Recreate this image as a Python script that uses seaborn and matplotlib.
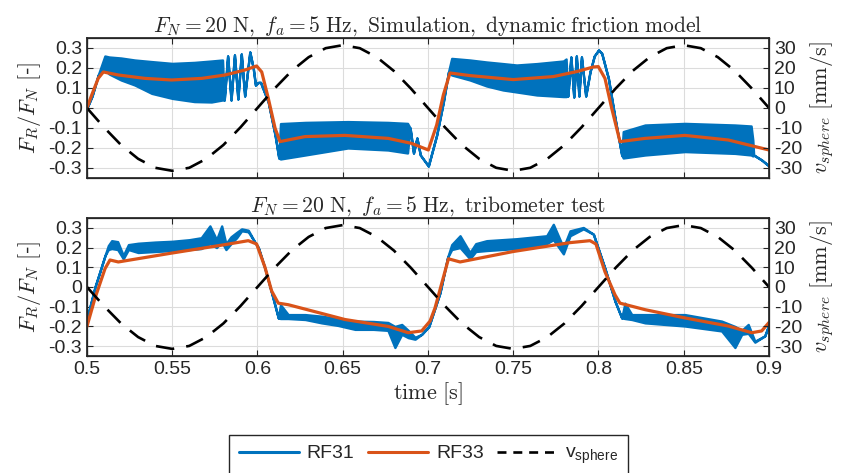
import matplotlib
matplotlib.use("Agg")
import seaborn as sns
import matplotlib.pyplot as plt
from matplotlib.lines import Line2D
from matplotlib.ticker import FormatStrFormatter, MultipleLocator

BLUE = "#0072BD"
ORANGE = "#D95319"
DASH = (0, (7.0, 4.6))

# sphere velocity [mm/s], same excitation in both panels
v_t = [0.50, 0.51, 0.52, 0.53, 0.54, 0.55, 0.56, 0.57, 0.58, 0.59,
       0.60, 0.61, 0.62, 0.63, 0.64, 0.65, 0.66, 0.67, 0.68, 0.69,
       0.70, 0.71, 0.72, 0.73, 0.74, 0.75, 0.76, 0.77, 0.78, 0.79,
       0.80, 0.81, 0.82, 0.83, 0.84, 0.85, 0.86, 0.87, 0.88, 0.89, 0.90]
v_sphere = [0, -9.7, -18.5, -25.4, -29.9, -31.4, -29.9, -25.4, -18.5, -9.7,
            0, 9.7, 18.5, 25.4, 29.9, 31.4, 29.9, 25.4, 18.5, 9.7,
            0, -9.7, -18.5, -25.4, -29.9, -31.4, -29.9, -25.4, -18.5, -9.7,
            0, 9.7, 18.5, 25.4, 29.9, 31.4, 29.9, 25.4, 18.5, 9.7, 0]

# simulation, RF31: envelope of the stick-slip oscillation (lo == hi -> single line)
sim31_t = [0.500, 0.503, 0.5066, 0.5105, 0.513, 0.520, 0.528, 0.538, 0.550, 0.563,
           0.573, 0.5795, 0.5805, 0.5825, 0.5845, 0.5865, 0.5885, 0.5905, 0.5925, 0.5955,
           0.5975, 0.5988, 0.6005, 0.6018, 0.6063, 0.6103, 0.6125, 0.6135, 0.628, 0.653,
           0.6765, 0.688, 0.6895, 0.6915, 0.6935, 0.6955, 0.7002, 0.7051, 0.709, 0.712,
           0.7139, 0.7246, 0.7344, 0.744, 0.752, 0.7638, 0.7794, 0.781, 0.782, 0.7838,
           0.7855, 0.787, 0.7885, 0.790, 0.7925, 0.795, 0.7975, 0.800, 0.8019, 0.8058,
           0.8097, 0.8136, 0.8145, 0.8273, 0.8507, 0.880, 0.8895, 0.8905, 0.891, 0.8957,
           0.900]
sim31_lo = [0.00, 0.06, 0.165, 0.19, 0.17, 0.14, 0.115, 0.073, 0.048, 0.032,
            0.030, 0.04, 0.04, 0.26, 0.04, 0.265, 0.045, 0.27, 0.06, 0.28,
            0.20, 0.115, 0.128, 0.128, 0.03, -0.135, -0.25, -0.255, -0.235, -0.20,
            -0.21, -0.225, -0.10, -0.225, -0.15, -0.235, -0.29, -0.135, 0.03, 0.18,
            0.165, 0.14, 0.11, 0.09, 0.08, 0.065, 0.057, 0.057, 0.06, 0.255,
            0.055, 0.26, 0.06, 0.255, 0.06, 0.18, 0.26, 0.29, 0.273, 0.148,
            -0.052, -0.235, -0.25, -0.235, -0.218, -0.227, -0.235, -0.24, -0.235, -0.26,
            -0.29]
sim31_hi = [0.00, 0.06, 0.165, 0.26, 0.255, 0.25, 0.24, 0.232, 0.223, 0.228,
            0.235, 0.24, 0.04, 0.26, 0.04, 0.265, 0.045, 0.27, 0.06, 0.28,
            0.20, 0.115, 0.128, 0.128, 0.03, -0.135, -0.25, -0.078, -0.072, -0.068,
            -0.072, -0.077, -0.10, -0.225, -0.15, -0.235, -0.29, -0.135, 0.03, 0.18,
            0.248, 0.24, 0.23, 0.222, 0.215, 0.222, 0.235, 0.245, 0.06, 0.255,
            0.055, 0.26, 0.06, 0.255, 0.06, 0.18, 0.26, 0.29, 0.273, 0.148,
            -0.052, -0.235, -0.118, -0.085, -0.077, -0.085, -0.09, -0.16, -0.235, -0.26,
            -0.29]

# simulation, RF33
sim33_t = [0.500, 0.5028, 0.5066, 0.5096, 0.5184, 0.534, 0.5497, 0.5673, 0.581, 0.5927,
           0.5995, 0.6025, 0.6063, 0.6103, 0.6132, 0.6279, 0.6513, 0.6767, 0.6904, 0.7002,
           0.7051, 0.709, 0.7129, 0.7246, 0.750, 0.7735, 0.7872, 0.797, 0.7999, 0.8038,
           0.8077, 0.8126, 0.8273, 0.8507, 0.8761, 0.900]
sim33 = [0.000, 0.065, 0.148, 0.18, 0.165, 0.148, 0.140, 0.148, 0.165, 0.19,
         0.21, 0.18, 0.05, -0.10, -0.168, -0.143, -0.137, -0.152, -0.177, -0.21,
         -0.085, 0.065, 0.175, 0.162, 0.142, 0.157, 0.182, 0.205, 0.207, 0.148,
         0.0, -0.168, -0.152, -0.137, -0.16, -0.21]

# tribometer test, RF31 (noise band)
tri31_t = [0.500, 0.5047, 0.5106, 0.5125, 0.5145, 0.518, 0.5213, 0.5243, 0.530, 0.540,
           0.550, 0.560, 0.567, 0.5721, 0.576, 0.579, 0.5815, 0.5845, 0.5878, 0.5907,
           0.5946, 0.5985, 0.6005, 0.6044, 0.6083, 0.6122, 0.6135, 0.618, 0.628, 0.6376,
           0.6472, 0.6572, 0.668, 0.6765, 0.6806, 0.6846, 0.6884, 0.6924, 0.6963, 0.7005,
           0.707, 0.7115, 0.7139, 0.7188, 0.7246, 0.728, 0.7344, 0.752, 0.7696, 0.7735,
           0.7794, 0.7833, 0.7911, 0.797, 0.8038, 0.8097, 0.8136, 0.8155, 0.8195, 0.8273,
           0.8507, 0.8722, 0.880, 0.884, 0.8878, 0.8917, 0.8975, 0.900]
tri31_lo = [-0.16, 0.0, 0.16, 0.19, 0.195, 0.19, 0.143, 0.19, 0.175, 0.18,
            0.185, 0.19, 0.195, 0.22, 0.20, 0.23, 0.19, 0.22, 0.25, 0.285,
            0.28, 0.227, 0.20, 0.093, -0.03, -0.157, -0.16, -0.16, -0.165, -0.182,
            -0.195, -0.215, -0.215, -0.22, -0.307, -0.24, -0.257, -0.265, -0.24, -0.20,
            -0.03, 0.15, 0.19, 0.20, 0.143, 0.18, 0.185, 0.195, 0.22, 0.24,
            0.168, 0.26, 0.295, 0.268, 0.093, -0.073, -0.157, -0.16, -0.165, -0.182,
            -0.198, -0.223, -0.307, -0.24, -0.235, -0.28, -0.248, -0.19]
tri31_hi = [-0.16, 0.0, 0.16, 0.21, 0.235, 0.23, 0.16, 0.215, 0.222, 0.228,
            0.232, 0.24, 0.25, 0.31, 0.24, 0.31, 0.22, 0.255, 0.277, 0.295,
            0.288, 0.227, 0.20, 0.093, -0.03, -0.157, -0.09, -0.14, -0.14, -0.148,
            -0.16, -0.173, -0.175, -0.18, -0.20, -0.19, -0.22, -0.255, -0.24, -0.20,
            -0.03, 0.15, 0.215, 0.26, 0.175, 0.22, 0.235, 0.245, 0.26, 0.318,
            0.20, 0.285, 0.302, 0.268, 0.093, -0.073, -0.157, -0.082, -0.14, -0.14,
            -0.14, -0.173, -0.20, -0.22, -0.19, -0.275, -0.248, -0.19]

# tribometer test, RF33
tri33_t = [0.500, 0.5047, 0.5106, 0.5135, 0.5184, 0.5497, 0.581, 0.5946, 0.5995, 0.6044,
           0.6083, 0.6122, 0.6181, 0.6513, 0.6767, 0.6884, 0.6963, 0.7012, 0.7041, 0.712,
           0.7188, 0.750, 0.7833, 0.795, 0.7985, 0.8038, 0.8097, 0.8126, 0.8273, 0.8507,
           0.8761, 0.8899, 0.8957, 0.900]
tri33 = [-0.20, -0.057, 0.093, 0.137, 0.127, 0.172, 0.215, 0.235, 0.218, 0.10,
         -0.02, -0.082, -0.09, -0.165, -0.20, -0.232, -0.223, -0.173, -0.107, 0.143,
         0.127, 0.18, 0.225, 0.235, 0.218, 0.077, -0.04, -0.082, -0.115, -0.157,
         -0.198, -0.232, -0.223, -0.18]

x_ticks = [0.5, 0.55, 0.6, 0.65, 0.7, 0.75, 0.8, 0.85, 0.9]

sns.set_theme(style="ticks")
plt.rcParams["font.family"] = ["Liberation Sans", "DejaVu Sans"]
plt.rcParams["mathtext.fontset"] = "cm"
plt.rcParams["axes.unicode_minus"] = False

fig = plt.figure(figsize=(8.41, 4.73), dpi=100)
ax_top = fig.add_axes([0.1034, 0.6237, 0.811, 0.2960])
ax_bot = fig.add_axes([0.1034, 0.2474, 0.811, 0.2917])


def draw_panel(ax, title, t31, lo31, hi31, t33, rf33, show_x):
    ax.fill_between(t31, lo31, hi31, color=BLUE, edgecolor=BLUE, lw=1.7, zorder=2)
    sns.lineplot(x=t33, y=rf33, ax=ax, color=ORANGE, lw=2.3, zorder=3)

    ax.set_xlim(0.5, 0.9)
    ax.set_ylim(-0.35, 0.35)
    ax.set_xticks(x_ticks)
    ax.yaxis.set_major_locator(MultipleLocator(0.1))
    ax.yaxis.set_major_formatter(FormatStrFormatter("%g"))
    ax.xaxis.set_major_formatter(FormatStrFormatter("%g"))
    ax.grid(True, color="#dcdcdc", lw=0.8)
    ax.set_axisbelow(True)
    ax.tick_params(direction="in", length=4, width=0.8, labelsize=14,
                   top=True, right=False, colors="#262626")
    if not show_x:
        ax.tick_params(labelbottom=False)
    for s in ax.spines.values():
        s.set_color("#262626")
        s.set_linewidth(0.9)
    ax.set_ylabel(r"$F_R/F_N\ [$-$]$", fontsize=16, labelpad=4)
    ax.set_xlabel("")
    ax.set_title(title, fontsize=15.5, pad=4)

    ax2 = ax.twinx()
    sns.lineplot(x=v_t, y=v_sphere, ax=ax2, color="black", lw=1.9)
    ax2.lines[-1].set_linestyle(DASH)
    ax2.set_ylim(-35, 35)
    ax2.set_yticks([-30, -20, -10, 0, 10, 20, 30])
    ax2.tick_params(direction="in", length=4, width=0.8, labelsize=14, colors="#262626")
    ax2.grid(False)
    ax2.set_ylabel(r"$v_{sphere}\ [\mathrm{mm/s}]$", fontsize=16, labelpad=4)
    ax2.set_xlabel("")
    return ax2


draw_panel(ax_top, r"$F_N = 20\ \mathrm{N},\ f_a = 5\ \mathrm{Hz},\ \mathrm{Simulation,\ dynamic\ friction\ model}$",
           sim31_t, sim31_lo, sim31_hi, sim33_t, sim33, False)
draw_panel(ax_bot, r"$F_N = 20\ \mathrm{N},\ f_a = 5\ \mathrm{Hz},\ \mathrm{tribometer\ test}$",
           tri31_t, tri31_lo, tri31_hi, tri33_t, tri33, True)
ax_bot.set_xlabel(r"$\mathrm{time}\ [\mathrm{s}]$", fontsize=16, labelpad=2)

handles = [Line2D([], [], color=BLUE, lw=2.2),
           Line2D([], [], color=ORANGE, lw=2.2),
           Line2D([], [], color="black", lw=1.9, linestyle=(0, (3.4, 2.6)))]
labels = ["RF31", "RF33", r"$\mathregular{v_{sphere}}$"]
fig.legend(handles, labels, loc="upper center", bbox_to_anchor=(0.5095, 0.0803),
           ncol=3, fontsize=14, frameon=True, fancybox=False, framealpha=1,
           edgecolor="#262626", handlelength=3.1, handletextpad=0.4,
           columnspacing=0.7, borderpad=0.5, borderaxespad=0)

fig.savefig("out.png", dpi=100)
